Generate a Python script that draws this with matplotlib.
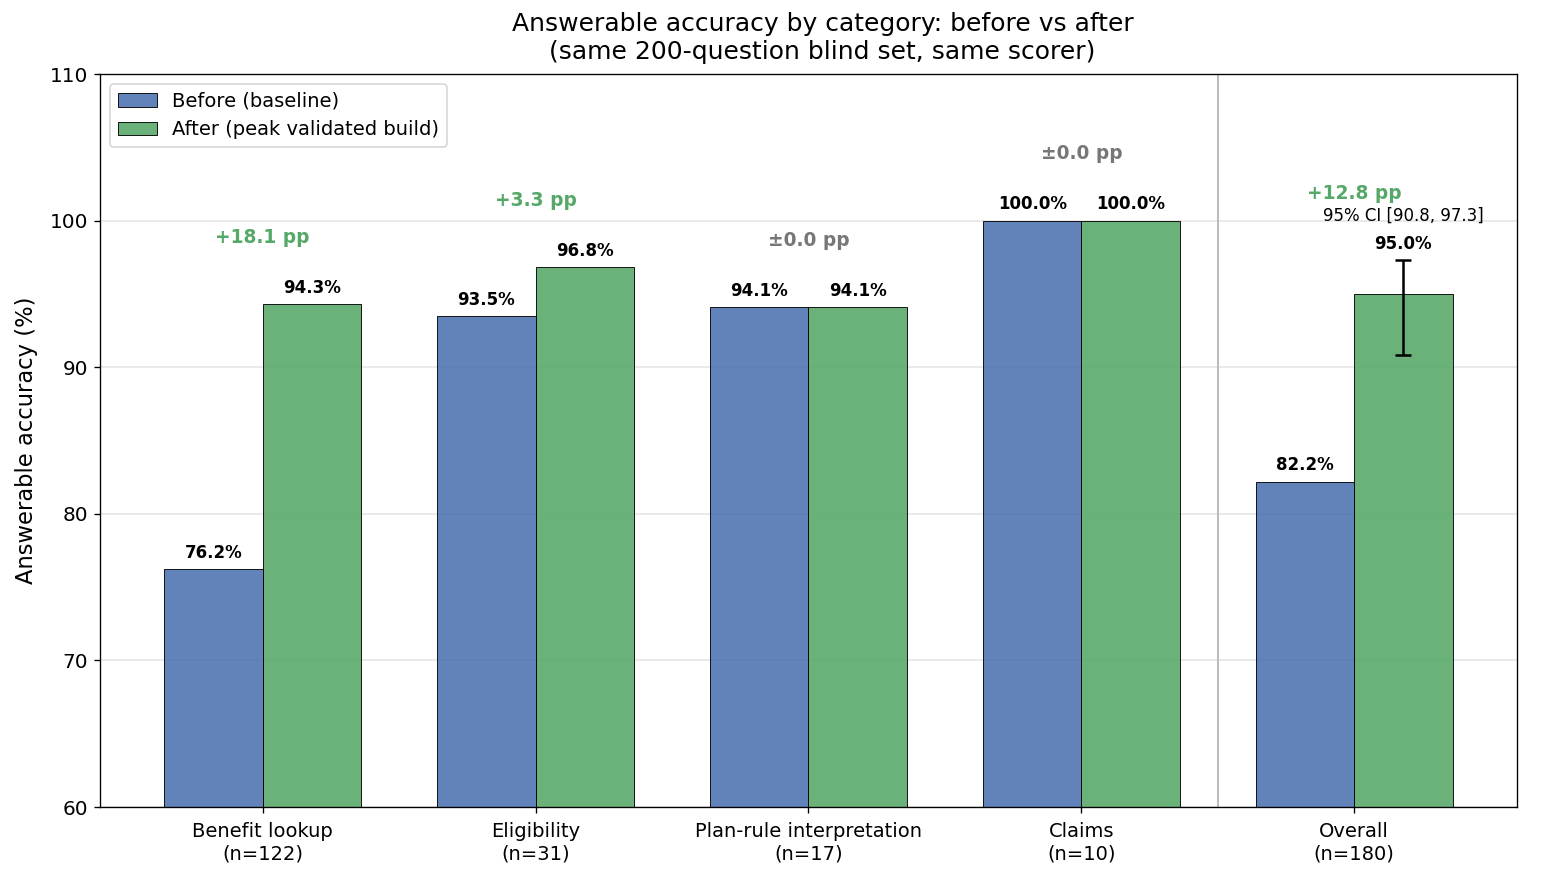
import matplotlib
matplotlib.use("Agg")
import matplotlib.pyplot as plt
import numpy as np

categories = ["Benefit lookup", "Eligibility", "Plan-rule interpretation", "Claims", "Overall"]
counts = [122, 31, 17, 10, 180]
before = [76.2, 93.5, 94.1, 100.0, 82.2]
after = [94.3, 96.8, 94.1, 100.0, 95.0]
deltas = ["+18.1 pp", "+3.3 pp", "\u00b10.0 pp", "\u00b10.0 pp", "+12.8 pp"]
overall_ci = [90.8, 97.3]

blue = "#4C72B0"
green = "#55A868"

fig = plt.figure(figsize=(13, 7.317), dpi=120)
ax = fig.add_axes([0.0641, 0.0809, 0.9083, 0.8348])

x = np.arange(len(categories))
w = 0.36
ax.bar(x - w / 2, before, w, color=blue, alpha=0.88, edgecolor="black", linewidth=0.6,
       label="Before (baseline)", zorder=2)
ax.bar(x + w / 2, after, w, color=green, alpha=0.88, edgecolor="black", linewidth=0.6,
       label="After (peak validated build)", zorder=2)

# CI on overall
lo, hi = overall_ci
ax.errorbar(x[-1] + w / 2, after[-1], yerr=[[after[-1] - lo], [hi - after[-1]]],
            fmt="none", ecolor="black", capsize=5, elinewidth=1.5, capthick=1.5, zorder=3)

for i in range(len(categories)):
    ax.text(x[i] - w / 2, before[i] + 0.5, f"{before[i]:.1f}%", ha="center", va="bottom",
            fontsize=10, fontweight="bold")
    top_after = after[i] if i < len(categories) - 1 else hi
    ax.text(x[i] + w / 2, top_after + 0.5, f"{after[i]:.1f}%", ha="center", va="bottom",
            fontsize=10, fontweight="bold")
    top = max(before[i], after[i], top_after)
    col = green if deltas[i].startswith("+") else "#777777"
    ax.text(x[i], top + 4.55, deltas[i], ha="center", va="center", fontsize=11.2,
            fontweight="bold", color=col)

ax.text(x[-1] + w / 2, hi + 3.0, f"95% CI [{lo:.1f}, {hi:.1f}]", ha="center", va="center",
        fontsize=10)

ax.axvline(3.5, color="#bbbbbb", linewidth=1.2, zorder=1)

ax.set_ylim(60, 110)
ax.set_yticks(np.arange(60, 111, 10))
ax.set_xticks(x)
ax.set_xticklabels([f"{c}\n(n={n})" for c, n in zip(categories, counts)], fontsize=11.7)
ax.tick_params(axis="x", pad=5.5)
ax.tick_params(axis="y", labelsize=12)
ax.set_ylabel("Answerable accuracy (%)", fontsize=13.6, labelpad=7)
ax.yaxis.grid(True, color="#e6e6e6", linewidth=1, zorder=0)
ax.set_axisbelow(True)
ax.set_title("Answerable accuracy by category: before vs after\n(same 200-question blind set, same scorer)",
             fontsize=15, pad=9, x=0.51)
ax.legend(loc="upper left", fontsize=11.7)

fig.savefig("out.png", dpi=120)
